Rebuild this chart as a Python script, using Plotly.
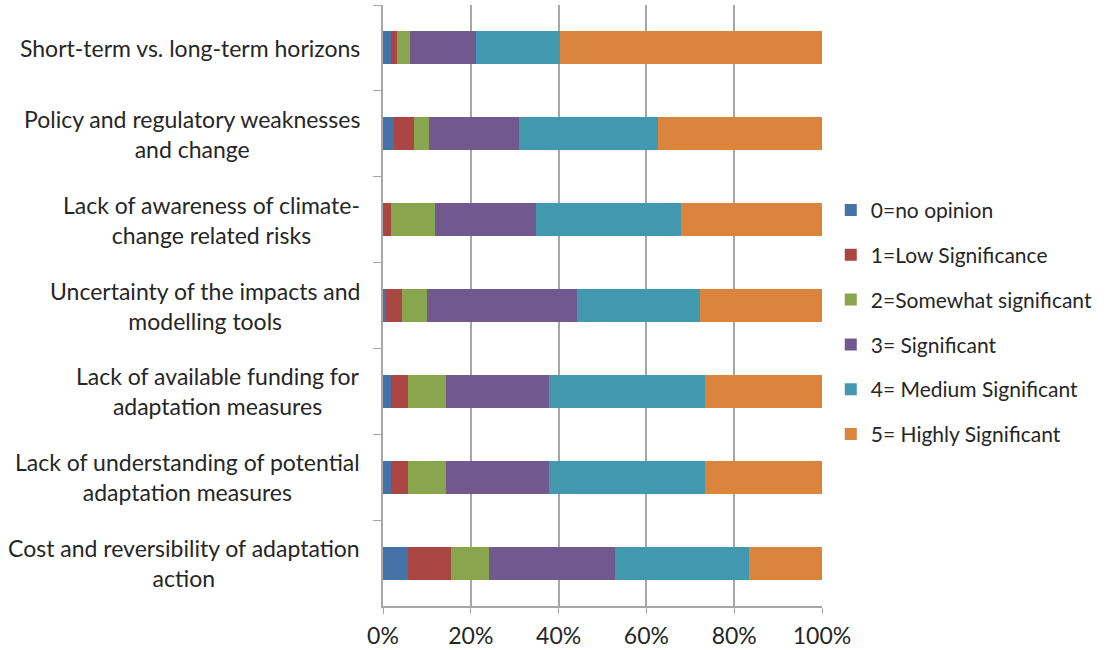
import plotly.graph_objects as go

# Barrier categories, listed top to bottom as displayed
categories = [
    "Short-term vs. long-term horizons",
    "Policy and regulatory weaknesses<br>and change",
    "Lack of awareness of climate-<br>change related risks",
    "Uncertainty of the impacts and<br>modelling tools",
    "Lack of available funding for<br>adaptation measures",
    "Lack of understanding of potential<br>adaptation measures",
    "Cost and reversibility of adaptation<br>action",
]

# Share of responses (%) per significance rating
no_opinion = [1.8, 2.6, 0.0, 0.7, 1.75, 1.75, 5.6]
low_sig = [1.3, 4.4, 1.75, 3.6, 3.9, 3.9, 9.8]
somewhat_sig = [3.0, 3.5, 10.1, 5.7, 8.7, 8.7, 8.8]
significant = [15.0, 20.4, 23.0, 34.1, 23.5, 23.5, 28.6]
medium_sig = [19.3, 31.7, 33.0, 28.1, 35.5, 35.5, 30.6]
highly_sig = [59.6, 37.4, 32.2, 27.8, 26.75, 26.75, 16.6]

series_names = [
    "0=no opinion",
    "1=Low Significance",
    "2=Somewhat significant",
    "3= Significant",
    "4= Medium Significant",
    "5= Highly Significant",
]
series_values = [no_opinion, low_sig, somewhat_sig, significant, medium_sig, highly_sig]
colors = ["#4572A7", "#AA4643", "#89A54E", "#71588F", "#4198AF", "#DB843D"]

FONT = "Lato"
TEXT_COLOR = "#262626"
GRID = "#A6A6A6"

fig = go.Figure()
for name, vals, col in zip(series_names, series_values, colors):
    fig.add_trace(go.Bar(
        y=categories, x=vals, name=name, orientation="h",
        marker=dict(color=col, line=dict(width=0)),
        legendgroup=name,
    ))

# Category labels: right-aligned block with centred lines
for cat in categories:
    fig.add_annotation(
        x=0, xref="paper", y=cat, yref="y",
        text=cat, showarrow=False,
        xanchor="right", yanchor="middle", align="center",
        xshift=-21,
        font=dict(family=FONT, size=23, color=TEXT_COLOR),
    )

fig.update_layout(
    width=1108, height=650,
    barmode="stack", bargap=0.616,
    plot_bgcolor="white", paper_bgcolor="white",
    margin=dict(l=383, r=286, t=5, b=44, autoexpand=False),
    font=dict(family=FONT, size=23, color=TEXT_COLOR),
    legend=dict(
        x=1.02, xanchor="left", y=0.472, yanchor="middle",
        traceorder="grouped", tracegroupgap=14.5,
        font=dict(family=FONT, size=21, color=TEXT_COLOR),
        bgcolor="rgba(0,0,0,0)",
    ),
    showlegend=True,
)

fig.update_xaxes(
    range=[0, 100], dtick=20, ticksuffix="%",
    showgrid=True, gridcolor=GRID, gridwidth=1.5,
    showline=True, linecolor=GRID, linewidth=1.5,
    ticks="outside", ticklen=6, tickcolor=GRID,
    ticklabelstandoff=3, automargin=False,
    zeroline=False,
    tickfont=dict(family=FONT, size=23, color=TEXT_COLOR),
)
fig.update_yaxes(
    autorange="reversed", showticklabels=False,
    showgrid=False, showline=True, linecolor=GRID, linewidth=1.5,
    ticks="outside", ticklen=8, tickcolor=GRID, tickson="boundaries",
    zeroline=False,
)

fig.write_html("out.html")
